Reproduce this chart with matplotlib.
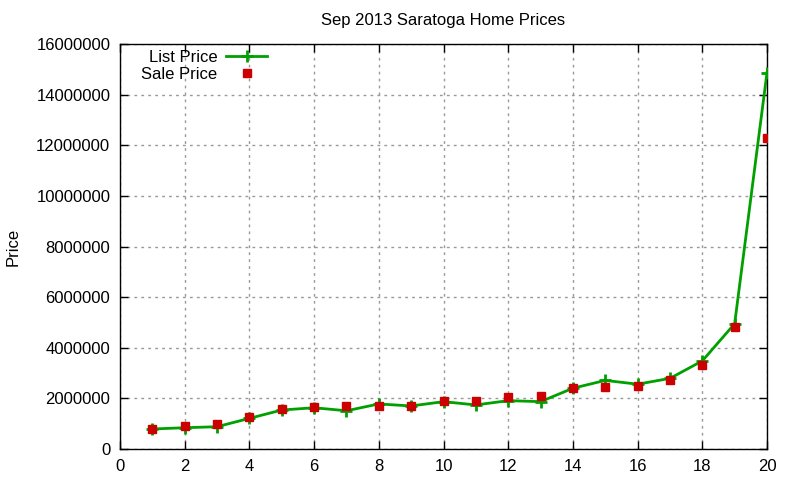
import matplotlib
matplotlib.use('Agg')
import matplotlib.pyplot as plt
from matplotlib.ticker import MultipleLocator, FormatStrFormatter

plt.rcParams['font.family'] = ['Liberation Sans', 'DejaVu Sans']
plt.rcParams['font.size'] = 12

# Data (one row per home sale, sorted by price)
house = list(range(1, 21))
list_price = [790000, 840000, 880000, 1210000, 1540000, 1630000, 1510000, 1780000, 1700000, 1870000,
              1740000, 1910000, 1870000, 2400000, 2710000, 2560000, 2790000, 3480000, 4950000, 14870000]
sale_price = [790000, 910000, 990000, 1260000, 1580000, 1660000, 1700000, 1710000, 1710000, 1900000,
              1900000, 2050000, 2090000, 2420000, 2460000, 2500000, 2710000, 3330000, 4830000, 12300000]

fig = plt.figure(figsize=(8, 4.8), dpi=100)
ax = fig.add_axes([0.15, 0.0646, 0.80875, 0.8437])

ax.plot(house, list_price, color='#00a000', linewidth=2, marker='+', markersize=9,
        markeredgewidth=2, label='List Price', zorder=3)
ax.plot(house, sale_price, linestyle='none', marker='s', markersize=5.8, color='#cc0000',
        label='Sale Price', zorder=4)

ax.set_xlim(0, 20)
ax.set_ylim(0, 16000000)
ax.xaxis.set_major_locator(MultipleLocator(2))
ax.yaxis.set_major_locator(MultipleLocator(2000000))
ax.yaxis.set_major_formatter(FormatStrFormatter('%d'))
ax.tick_params(direction='in', top=True, right=True, length=6, width=1, pad=7)
ax.grid(True, color='#999999', linestyle=(0, (2, 3)), linewidth=1)
for s in ax.spines.values():
    s.set_linewidth(1)

ax.set_title('Sep 2013 Saratoga Home Prices', fontsize=12, pad=14)
ax.set_ylabel('Price', labelpad=11)

leg = ax.legend(loc='upper left', bbox_to_anchor=(0.015, 1.015), frameon=False, markerfirst=False,
                handlelength=2.5, handletextpad=0.5, labelspacing=0.15, borderaxespad=0.3)

fig.savefig('out.png', dpi=100)
